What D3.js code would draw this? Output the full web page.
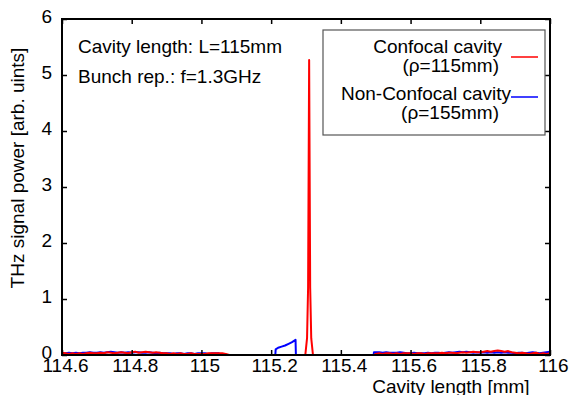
<!DOCTYPE html>
<html>
<head>
<meta charset="utf-8">
<script src="https://cdn.jsdelivr.net/npm/d3@7"></script>
<style>
  body { margin: 0; background: #fff; }
  text { font-family: "Liberation Sans", Arial, sans-serif; fill: #000; }
</style>
</head>
<body>
<svg width="571" height="395"></svg>
<script>
// x grid: noisy stretches are sampled every 0.01 mm
const step = 0.01;

// confocal cavity (red)
const redLeftStart = 114.6;
const redLeft = [
  0.04, 0.03, 0.02, 0.03, 0.02, 0.03, 0.02, 0.03, 0.04, 0.03,
  0.03, 0.04, 0.03, 0.05, 0.04, 0.03, 0.04, 0.05, 0.04, 0.03,
  0.05, 0.06, 0.04, 0.05, 0.06, 0.05, 0.04, 0.05, 0.04, 0.03,
  0.03, 0.02, 0.03, 0.02, 0.03, 0.02, 0.02, 0.03, 0.02, 0.02,
  0.02, 0.02, 0.03, 0.03, 0.03, 0.03, 0.03, 0.02
];
const redPeakX = [115.08, 115.298, 115.303, 115.306, 115.309, 115.312, 115.315, 115.320, 115.495];
const redPeakY = [0, 0, 0.3, 1.2, 5.27, 1.2, 0.3, 0, 0];
const redRightStart = 115.5;
const redRight = [
  0.02, 0.03, 0.02, 0.03, 0.03, 0.02, 0.03, 0.02, 0.03, 0.03,
  0.03, 0.02, 0.03, 0.03, 0.02, 0.03, 0.03, 0.03, 0.03, 0.04,
  0.03, 0.04, 0.04, 0.03, 0.04, 0.05, 0.04, 0.05, 0.06, 0.05,
  0.05, 0.06, 0.07, 0.06, 0.07, 0.08, 0.07, 0.06, 0.07, 0.05,
  0.04, 0.03, 0.04, 0.03, 0.02, 0.03, 0.04, 0.02, 0.03, 0.02, 0.03
];

// non-confocal cavity (blue)
const blueLeftStart = 114.6;
const blueLeft = [
  0.02, 0.03, 0.04, 0.03, 0.04, 0.03, 0.04, 0.04, 0.05, 0.04,
  0.04, 0.05, 0.04, 0.05, 0.06, 0.05, 0.04, 0.05, 0.04, 0.05,
  0.04, 0.05, 0.05, 0.04, 0.04, 0.05, 0.04, 0.03, 0.04, 0.03,
  0.03, 0.03, 0.02, 0.03, 0.03, 0.02, 0.03, 0.03, 0.02, 0.03,
  0.03, 0.03, 0.02, 0.03, 0.03, 0.03
];
const blueBumpX = [115.051, 115.212, 115.213, 115.22, 115.23, 115.24, 115.25, 115.26, 115.27, 115.271, 115.494, 115.495];
const blueBumpY = [0, 0, 0.1, 0.13, 0.15, 0.17, 0.2, 0.23, 0.27, 0, 0, 0.05];
const blueRightStart = 115.5;
const blueRight = [
  0.05, 0.05, 0.04, 0.05, 0.04, 0.04, 0.04, 0.05, 0.04, 0.03,
  0.03, 0.04, 0.03, 0.03, 0.03, 0.04, 0.03, 0.04, 0.04, 0.03,
  0.04, 0.05, 0.04, 0.05, 0.06, 0.05, 0.06, 0.05, 0.04, 0.05,
  0.04, 0.05, 0.04, 0.05, 0.04, 0.05, 0.04, 0.05, 0.04, 0.04,
  0.03, 0.04, 0.04, 0.03, 0.04, 0.05, 0.04, 0.03, 0.04, 0.05, 0.06
];

const xTicks = [114.6, 114.8, 115, 115.2, 115.4, 115.6, 115.8, 116];
const yTicks = [0, 1, 2, 3, 4, 5, 6];
const legendNames = ["Confocal cavity", "Non-Confocal cavity"];
const legendSub = ["(ρ=115mm)", "(ρ=155mm)"];
const colors = ["#ff0000", "#0000ff"];

function sampled(start, vals) {
  return vals.map((v, i) => [start + i * step, v]);
}
function pairs(xs, ys) {
  return xs.map((x, i) => [x, ys[i]]);
}
const red = [].concat(sampled(redLeftStart, redLeft), pairs(redPeakX, redPeakY), sampled(redRightStart, redRight));
const blue = [].concat(sampled(blueLeftStart, blueLeft), pairs(blueBumpX, blueBumpY), sampled(blueRightStart, blueRight));

const width = 571;
const height = 395;
const marginLeft = 62;
const marginRight = 21;
const marginTop = 19;
const marginBottom = 40;

const svg = d3.select("svg");

const x = d3.scaleLinear([114.6, 116], [marginLeft, width - marginRight]);
const y = d3.scaleLinear([0, 6], [height - marginBottom, marginTop]);

svg.append("clipPath").attr("id", "clip")
  .append("rect")
  .attr("x", marginLeft).attr("y", marginTop)
  .attr("width", width - marginLeft - marginRight)
  .attr("height", height - marginTop - marginBottom);

const line = d3.line().x(d => x(d[0])).y(d => y(d[1]));

const plot = svg.append("g").attr("clip-path", "url(#clip)");
[blue, red].forEach((s, i) => {
  plot.append("path")
    .datum(s)
    .attr("fill", "none")
    .attr("stroke", i === 0 ? colors[1] : colors[0])
    .attr("stroke-width", 2)
    .attr("stroke-linejoin", "round")
    .attr("d", line);
});

// axes, ticks inward on all four sides
const tickLen = 5;
svg.append("g")
  .attr("transform", `translate(0,${height - marginBottom})`)
  .call(d3.axisBottom(x).tickValues(xTicks).tickSize(-tickLen).tickPadding(3).tickFormat(d3.format("")))
  .call(g => g.select(".domain").remove())
  .call(g => g.selectAll("text").attr("font-size", 19).attr("dx", 3));

svg.append("g")
  .attr("transform", `translate(0,${marginTop})`)
  .call(d3.axisTop(x).tickValues(xTicks).tickSize(-tickLen).tickFormat(""))
  .call(g => g.select(".domain").remove());

svg.append("g")
  .attr("transform", `translate(${marginLeft},0)`)
  .call(d3.axisLeft(y).tickValues(yTicks).tickSize(-tickLen).tickPadding(10).tickFormat(d3.format("d")))
  .call(g => g.select(".domain").remove())
  .call(g => g.selectAll("text").attr("font-size", 19).attr("dy", "0.2em"));

svg.append("g")
  .attr("transform", `translate(${width - marginRight},0)`)
  .call(d3.axisRight(y).tickValues(yTicks).tickSize(-tickLen).tickFormat(""))
  .call(g => g.select(".domain").remove());

svg.selectAll(".tick line").attr("stroke", "#000").attr("stroke-width", 1.5);

svg.append("rect")
  .attr("x", marginLeft).attr("y", marginTop)
  .attr("width", width - marginLeft - marginRight)
  .attr("height", height - marginTop - marginBottom)
  .attr("fill", "none")
  .attr("stroke", "#000")
  .attr("stroke-width", 2);

// axis titles
svg.append("text")
  .attr("x", 451).attr("y", 393)
  .attr("text-anchor", "middle")
  .attr("font-size", 19)
  .text("Cavity length [mm]");

svg.append("text")
  .attr("transform", "translate(24,168) rotate(-90)")
  .attr("text-anchor", "middle")
  .attr("font-size", 19)
  .text("THz signal power [arb. uints]");

// annotation
svg.append("text").attr("x", 78).attr("y", 53).attr("font-size", 19)
  .text("Cavity length: L=115mm");
svg.append("text").attr("x", 78).attr("y", 83).attr("font-size", 19)
  .text("Bunch rep.: f=1.3GHz");

// legend
const legend = svg.append("g");
legend.append("rect")
  .attr("x", 323).attr("y", 30).attr("width", 222).attr("height", 105)
  .attr("fill", "#fff").attr("stroke", "#555").attr("stroke-width", 1.2);

legendNames.forEach((name, i) => {
  const y0 = 53 + i * 47;
  legend.append("text")
    .attr("x", i === 0 ? 502 : 511).attr("y", y0)
    .attr("text-anchor", "end").attr("font-size", 19)
    .text(name);
  legend.append("text")
    .attr("x", 499).attr("y", y0 + 19)
    .attr("text-anchor", "end").attr("font-size", 19)
    .text(legendSub[i]);
  legend.append("line")
    .attr("x1", 511).attr("x2", 538)
    .attr("y1", i === 0 ? 57 : 97).attr("y2", i === 0 ? 57 : 97)
    .attr("stroke", colors[i]).attr("stroke-width", 1.5);
});
</script>
</body>
</html>
